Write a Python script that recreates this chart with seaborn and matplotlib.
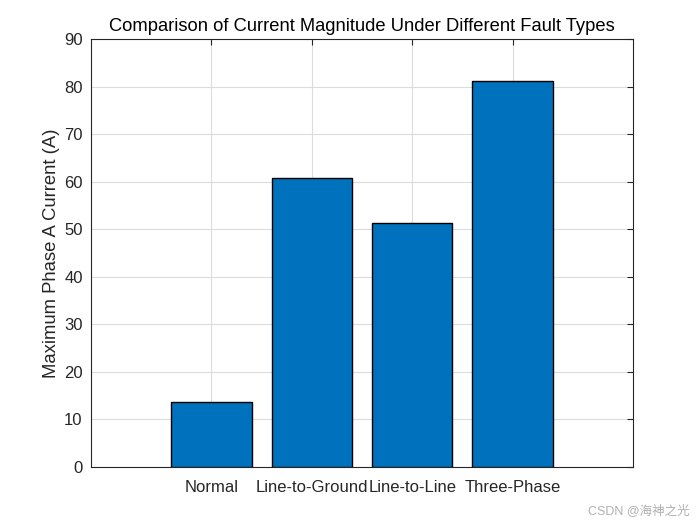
import matplotlib
matplotlib.use("Agg")
import matplotlib.pyplot as plt
import seaborn as sns
import pandas as pd

categories = ["Normal", "Line-to-Ground", "Line-to-Line", "Three-Phase"]
max_current = [13.6, 60.8, 51.4, 81.1]
yticks = [0, 10, 20, 30, 40, 50, 60, 70, 80, 90]

df = pd.DataFrame({"Fault": categories, "Current": max_current})

sns.set_style("white")
plt.rcParams['font.family'] = ['Liberation Sans', 'Noto Sans CJK SC', 'DejaVu Sans']

fig = plt.figure(figsize=(7, 5.25), dpi=100)
ax = fig.add_axes([91/700, 1-467/525, (633-91)/700, (467-39)/525])

sns.barplot(data=df, x="Fault", y="Current", ax=ax, color="#0072BD",
            saturation=1, width=0.8, edgecolor="black", linewidth=1, zorder=3)

ax.set_xlim(-1.2, 4.2)
ax.set_ylim(0, 90)
ax.set_yticks(yticks)
ax.grid(True, color="#dcdcdc", linewidth=0.8, zorder=0)
ax.set_axisbelow(True)
for s in ax.spines.values():
    s.set_color("#262626")
    s.set_linewidth(0.8)
    s.set_visible(True)
ax.tick_params(direction="in", top=True, right=True, length=4, width=0.8,
               labelsize=12, colors="#262626", pad=6)
ax.tick_params(axis="x", pad=9)
ax.set_xlabel("")
ax.set_ylabel("Maximum Phase A Current (A)", fontsize=13.3, color="#262626",
              labelpad=3)
ax.set_title("Comparison of Current Magnitude Under Different Fault Types",
             fontsize=13.2, color="#000000", pad=6)

fig.text(0.985, 0.015, "CSDN @海神之光", ha="right", va="bottom", fontsize=9,
         color="#b0b0b0")

fig.savefig("out.png", dpi=100)
